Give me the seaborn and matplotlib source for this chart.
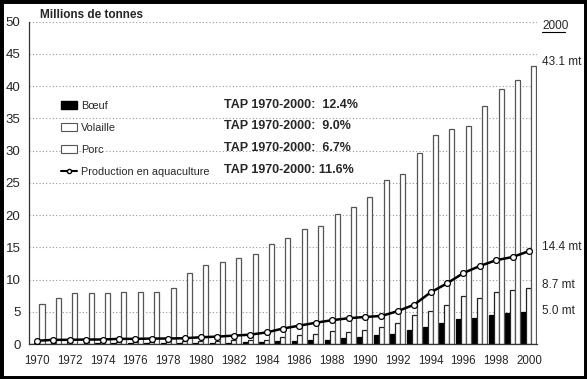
#!/usr/bin/env python3
"""
Production mondiale de viande et aquaculture 1970-2000.
Recreates the grouped bar chart with the aquaculture line on top.
"""

import numpy as np
import pandas as pd
import matplotlib
matplotlib.use("Agg")
import matplotlib.pyplot as plt
from matplotlib.patches import Patch, Rectangle
from matplotlib.lines import Line2D
import seaborn as sns

# Data (millions de tonnes)
years = list(range(1970, 2001))
boeuf = [0.05, 0.06, 0.07, 0.08, 0.09, 0.10, 0.11, 0.12, 0.13, 0.15,
         0.17, 0.20, 0.22, 0.25, 0.30, 0.45, 0.5, 0.6, 0.7, 1.0,
         1.1, 1.35, 1.6, 2.1, 2.6, 3.3, 3.9, 4.1, 4.5, 4.8, 5.0]
volaille = [0.20, 0.22, 0.25, 0.27, 0.30, 0.32, 0.35, 0.37, 0.40, 0.42,
            0.45, 0.50, 0.55, 0.60, 0.70, 1.1, 1.4, 1.6, 2.0, 1.9,
            2.2, 2.7, 3.2, 4.5, 5.1, 6.0, 7.4, 7.1, 8.1, 8.4, 8.7]
porc = [6.2, 7.1, 7.9, 7.9, 7.9, 8.0, 8.0, 8.0, 8.7, 11.0,
        12.2, 12.7, 13.4, 13.9, 15.5, 16.5, 17.9, 18.3, 20.2, 21.2,
        22.8, 25.5, 26.3, 29.7, 32.4, 33.3, 33.8, 37.0, 39.6, 40.9, 43.1]
aquaculture = [0.5, 0.65, 0.65, 0.7, 0.7, 0.8, 0.8, 0.85, 0.85, 0.9,
               1.05, 1.15, 1.3, 1.45, 1.8, 2.4, 2.85, 3.3, 3.7, 4.0,
               4.2, 4.35, 5.1, 6.1, 8.0, 9.4, 11.0, 12.1, 13.0, 13.5, 14.4]

series_names = ["Bœuf", "Volaille", "Porc"]
line_name = "Production en aquaculture"
tap_labels = ["TAP 1970-2000:  12.4%", "TAP 1970-2000:  9.0%",
              "TAP 1970-2000:  6.7%", "TAP 1970-2000: 11.6%"]
end_labels = ["43.1 mt", "14.4 mt", "8.7 mt", "5.0 mt"]

FONT = ["Liberation Sans", "DejaVu Sans"]

sns.set_style("white")
plt.rcParams["font.family"] = FONT

# long table for seaborn
df = pd.DataFrame({
    "year": [str(y) for y in years] * 3,
    "value": boeuf + volaille + porc,
    "type": [series_names[0]] * len(years) + [series_names[1]] * len(years)
            + [series_names[2]] * len(years),
})

fig = plt.figure(figsize=(5.87, 3.79), dpi=100)
ax = fig.add_axes([0.049, 0.0923, 0.866, 0.8504])

sns.barplot(data=df, x="year", y="value", hue="type", order=[str(y) for y in years],
            hue_order=series_names, width=0.92, gap=0, dodge=True, ax=ax,
            legend=False, errorbar=None)

faces = ["black", "white", "white"]
edges = ["black", "#222222", "#555555"]
for cont, fc, ec in zip(ax.containers, faces, edges):
    for bar in cont:
        bar.set_facecolor(fc)
        bar.set_edgecolor(ec)
        bar.set_linewidth(0.9)

sns.lineplot(x=np.arange(len(years)), y=aquaculture, ax=ax, color="black",
             linewidth=1.8, marker="o", markersize=4.2, markerfacecolor="white",
             markeredgecolor="black", markeredgewidth=0.9, zorder=5)

ax.set_xlim(-0.5, len(years) - 0.5)
ax.set_ylim(0, 50)
ax.set_yticks(range(0, 51, 5))
ax.set_yticklabels([str(v) for v in range(0, 51, 5)], fontsize=9.5)
ax.set_xticks(range(0, len(years), 2))
ax.set_xticklabels([str(y) for y in years[::2]], fontsize=8.3)
ax.set_xticks(np.arange(-0.5, len(years), 1), minor=True)
ax.tick_params(axis="x", which="major", length=0, pad=8)
ax.tick_params(axis="x", which="minor", length=4, width=0.8, color="#333333")
ax.tick_params(axis="y", length=4, width=0.8, color="#333333", pad=2)
ax.set_xlabel("")
ax.set_ylabel("")

for v in range(5, 51, 5):
    ax.axhline(v, color="#999999", linestyle=(0, (1, 2)), linewidth=0.8, zorder=0)

sns.despine(ax=ax, top=True, right=True)
for side in ["left", "bottom"]:
    ax.spines[side].set_color("#333333")
    ax.spines[side].set_linewidth(0.9)

# legend
handles = [
    Patch(facecolor="black", edgecolor="black"),
    Patch(facecolor="white", edgecolor="#555555", linewidth=0.8),
    Patch(facecolor="white", edgecolor="#555555", linewidth=0.8),
    Line2D([0], [0], color="black", linewidth=1.5, marker="o", markersize=3,
           markerfacecolor="white", markeredgecolor="black"),
]
ax.legend(handles, series_names + [line_name], loc="upper left",
          bbox_to_anchor=(0.1034, 0.734), bbox_transform=fig.transFigure,
          frameon=False, borderpad=0, borderaxespad=0, handlelength=1.55,
          handleheight=0.8, handletextpad=0.3, labelspacing=1.1,
          prop={"size": 7.8})

# growth rates
for i, txt in enumerate(tap_labels):
    ypx = [105, 126, 148, 170][i]
    fig.text(224 / 587, 1 - ypx / 379, txt, fontsize=9, fontweight="bold",
             va="center", ha="left")

fig.text(40 / 587, 1 - 15.5 / 379, "Millions de tonnes", fontsize=8.5,
         fontweight="bold", va="center", ha="left")

# 2000 values on the right
fig.text(542 / 587, 1 - 25.7 / 379, "2000", fontsize=8.5, va="center", ha="left")
fig.add_artist(Line2D([542 / 587, 565 / 587], [1 - 32 / 379, 1 - 32 / 379],
                      color="black", linewidth=0.8, transform=fig.transFigure))
for txt, ypx in zip(end_labels, [61.7, 247.3, 284.7, 310.7]):
    fig.text(542 / 587, 1 - ypx / 379, txt, fontsize=8.5, va="center", ha="left")

# black frame round the picture
fig.add_artist(Rectangle((0, 0), 1, 1, transform=fig.transFigure, fill=False,
                         edgecolor="black", linewidth=5))

fig.savefig("out.png", dpi=100)
